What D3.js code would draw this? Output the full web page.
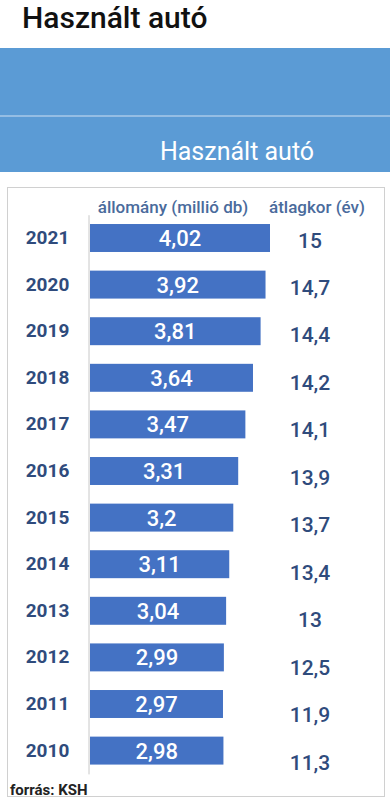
<!DOCTYPE html>
<html>
<head>
<meta charset="utf-8">
<script src="https://cdn.jsdelivr.net/npm/d3@7"></script>
<style>
  body { margin: 0; background: #fff; }
  svg { display: block; font-family: Roboto, "Noto Sans", sans-serif; }
</style>
</head>
<body>
<div id="chart"></div>
<script>
const years = ["2021", "2020", "2019", "2018", "2017", "2016", "2015", "2014", "2013", "2012", "2011", "2010"]
const stock = [4.02, 3.92, 3.81, 3.64, 3.47, 3.31, 3.2, 3.11, 3.04, 2.99, 2.97, 2.98]
const avgAge = [15, 14.7, 14.4, 14.2, 14.1, 13.9, 13.7, 13.4, 13, 12.5, 11.9, 11.3]
const headers = ["állomány (millió db)", "átlagkor (év)"]

const width = 390
const height = 800
const navy = "#2f4b7c"
const fmt = v => String(v).replace(".", ",")

const rows = years.map((y, i) => ({ year: y, stock: stock[i], age: avgAge[i] }))

const svg = d3.select("#chart").append("svg")
    .attr("width", width)
    .attr("height", height)

// top title
svg.append("text")
    .attr("x", 22)
    .attr("y", 28)
    .attr("font-size", 30)
    .attr("font-weight", 500)
    .attr("fill", "#111")
    .text("Használt autó")

// blue header band
svg.append("rect")
    .attr("x", 0).attr("y", 48)
    .attr("width", width).attr("height", 124)
    .attr("fill", "#5b9bd5")
svg.append("line")
    .attr("x1", 0).attr("x2", width)
    .attr("y1", 116).attr("y2", 116)
    .attr("stroke", "#cfe0f3").attr("stroke-width", 1)
svg.append("text")
    .attr("x", 237)
    .attr("y", 160)
    .attr("text-anchor", "middle")
    .attr("font-size", 25)
    .attr("fill", "#fff")
    .text("Használt autó")

// panel
svg.append("rect")
    .attr("x", 7.5).attr("y", 187.5)
    .attr("width", 377).attr("height", 609)
    .attr("fill", "#fff")
    .attr("stroke", "#d0d0d0")

const x = d3.scaleLinear()
    .domain([0, 4.02])
    .range([90, 270])

const y = d3.scaleBand()
    .domain(years)
    .range([214.7, 773.9])
    .paddingInner(0.4)
    .paddingOuter(0.2)

const yAge = d3.scalePoint()
    .domain(years)
    .range([240, 762])

// column headers
svg.append("g")
    .attr("font-size", 17)
    .attr("font-weight", 500)
    .attr("fill", "#4a6b9c")
    .attr("text-anchor", "middle")
    .selectAll("text")
    .data(headers)
    .join("text")
    .attr("x", (d, i) => [173, 317][i])
    .attr("y", 213)
    .text(d => d)

// year axis
const yAxis = g => g
    .attr("transform", `translate(88.5,0)`)
    .call(d3.axisLeft(y).tickSize(0))
    .call(g => g.select(".domain").attr("stroke", "#c8c8c8"))
    .call(g => g.selectAll(".tick text")
        .attr("font-family", "Roboto, sans-serif")
        .attr("font-size", 19)
        .attr("font-weight", 700)
        .attr("fill", navy)
        .attr("text-anchor", "middle")
        .attr("x", -41))

svg.append("g").call(yAxis)

// bars
svg.append("g")
    .selectAll("rect")
    .data(rows)
    .join("rect")
    .attr("x", x(0))
    .attr("y", d => y(d.year))
    .attr("width", d => x(d.stock) - x(0))
    .attr("height", y.bandwidth())
    .attr("fill", "#4472c4")

// value labels in bars
svg.append("g")
    .attr("font-size", 22)
    .attr("font-weight", 500)
    .attr("fill", "#fff")
    .attr("text-anchor", "middle")
    .selectAll("text")
    .data(rows)
    .join("text")
    .attr("x", d => (x(0) + x(d.stock)) / 2)
    .attr("y", d => y(d.year) + y.bandwidth() / 2)
    .attr("dy", "0.36em")
    .text(d => fmt(d.stock))

// average age column
svg.append("g")
    .attr("font-size", 21)
    .attr("font-weight", 500)
    .attr("fill", navy)
    .attr("text-anchor", "middle")
    .selectAll("text")
    .data(rows)
    .join("text")
    .attr("x", 310)
    .attr("y", d => yAge(d.year))
    .attr("dy", "0.36em")
    .text(d => fmt(d.age))

// source
svg.append("text")
    .attr("x", 10)
    .attr("y", 795)
    .attr("font-size", 15)
    .attr("font-weight", 700)
    .attr("fill", "#222")
    .text("forrás: KSH")
</script>
</body>
</html>
